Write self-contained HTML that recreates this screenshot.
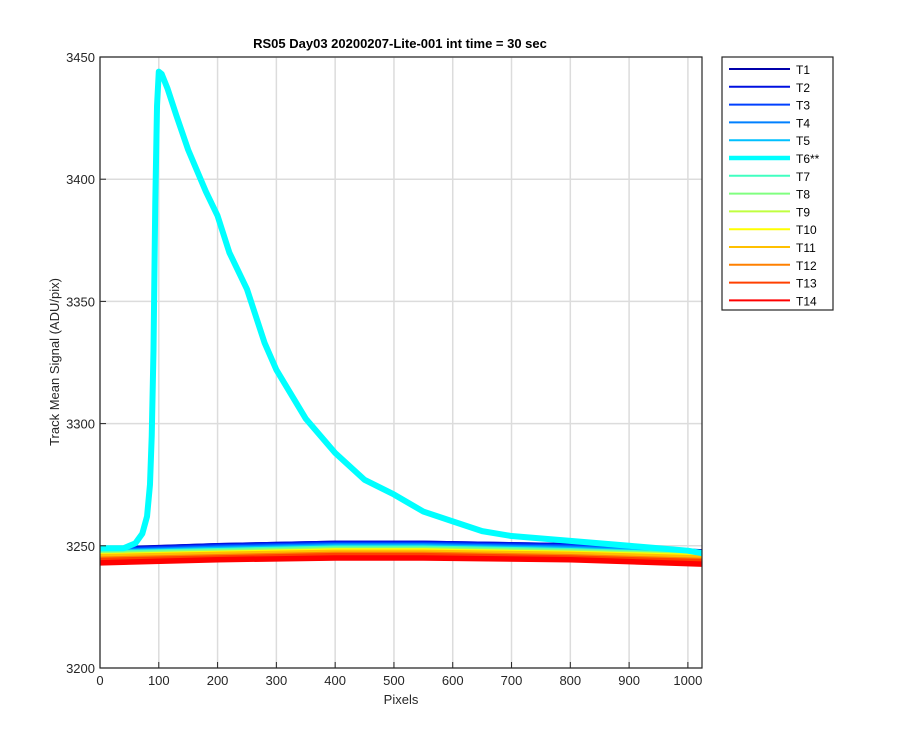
<!DOCTYPE html>
<html><head><meta charset="utf-8"><style>
body{margin:0;background:#fff;font-family:"Liberation Sans",sans-serif}
svg text{font-family:"Liberation Sans",sans-serif}
</style></head><body>
<svg id="chart" width="900" height="750">
<rect width="900" height="750" fill="#fff"/>
<rect x="100" y="57" width="602" height="611" fill="#fff" stroke="none"/>
<g id="grid"></g>
<g id="series"></g>
<rect x="100" y="57" width="602" height="611" fill="none" stroke="#262626" stroke-width="1.2"/>
<g id="ticks"></g>
<text x="400" y="48" text-anchor="middle" font-size="13" font-weight="bold" fill="#000">RS05 Day03 20200207-Lite-001 int time = 30 sec</text>
<text x="401" y="704" text-anchor="middle" font-size="13" fill="#262626">Pixels</text>
<text transform="translate(59,362) rotate(-90)" text-anchor="middle" font-size="13" fill="#262626">Track Mean Signal (ADU/pix)</text>
<g id="legend"></g>
</svg>
<script>
const NS="http://www.w3.org/2000/svg";
const xTicks=[0,100,200,300,400,500,600,700,800,900,1000];
const yTicks=[3200,3250,3300,3350,3400,3450];
const trackNames=["T1","T2","T3","T4","T5","T6**","T7","T8","T9","T10","T11","T12","T13","T14"];
const trackColors=["#0000aa","#0010e0","#0040ff","#0080ff","#00c0ff","#00ffff","#40ffc0","#80ff80","#c0ff40","#ffff00","#ffc000","#ff8000","#ff4000","#ff0000"];
const baseX=[0,200,400,550,800,1024];
const baseStart=[3248.5,3248.3,3248,3247.5,3247.2,3249,3247,3246.5,3246,3245.8,3245.5,3244.5,3244,3243];
const baseMid=[3250,3250,3249.5,3249,3248.5,0,3248,3247.5,3247,3246.8,3246.5,3245.5,3245,3244.3];
const baseHigh=[3251,3251,3250.5,3250,3249.5,0,3249,3248.5,3248,3247.8,3247.3,3246.5,3246,3245];
const baseEnd=[3247.5,3247.3,3247,3246.8,3246.5,0,3246.3,3246,3245.8,3245.5,3245,3244,3243.5,3242.5];
const t6X=[0,40,60,72,80,85,88,91,94,97,100,105,115,130,150,180,200,220,250,280,300,350,400,450,500,550,600,650,700,800,900,1000,1024];
const t6Y=[3249,3249,3251,3255,3262,3275,3295,3330,3390,3430,3444,3443,3437,3426,3412,3395,3385,3370,3355,3333,3322,3302,3288,3277,3271,3264,3260,3256,3254,3252,3250,3248,3247];
const X0=100,X1=702,Y0=668,Y1=57;
const sx=v=>X0+(v/1024)*(X1-X0);
const sy=v=>Y0-(v-3200)/250*(Y0-Y1);
const grid=document.getElementById('grid'),ticks=document.getElementById('ticks'),series=document.getElementById('series'),legend=document.getElementById('legend');
function mk(tag,a,p){const e=document.createElementNS(NS,tag);for(const k in a)e.setAttribute(k,a[k]);p.appendChild(e);return e;}
xTicks.forEach(t=>{
 const g=mk('line',{x1:sx(t),x2:sx(t),y1:Y1,y2:Y0,stroke:'#dcdcdc','stroke-width':1.5},grid);
 
 
 mk('line',{x1:sx(t),x2:sx(t),y1:Y0,y2:Y0-6,stroke:'#262626'},ticks);
 const l=mk('text',{x:sx(t),y:Y0+17,'text-anchor':'middle','font-size':13,fill:'#262626'},ticks);l.textContent=t;
 
 
});
yTicks.forEach(t=>{
 const g=mk('line',{x1:X0,x2:X1,y1:sy(t),y2:sy(t),stroke:'#dcdcdc','stroke-width':1.5},grid);
 
 
 mk('line',{x1:X0,x2:X0+6,y1:sy(t),y2:sy(t),stroke:'#262626'},ticks);
 const l=mk('text',{x:X0-5,y:sy(t)+5,'text-anchor':'end','font-size':13,fill:'#262626'},ticks);l.textContent=t;
 
 
});
for(let i=0;i<14;i++){
 if(i===5)continue;
 const ys=[baseStart[i],baseMid[i],baseHigh[i],baseHigh[i],baseMid[i],baseEnd[i]];
 const d=baseX.map((x,k)=>(k?'L':'M')+sx(x)+','+sy(ys[k])).join('');
 const p=mk('path',{d:d,fill:'none',stroke:trackColors[i],'stroke-width':5.5},series);
 
 
}
{
 const d=t6X.map((x,k)=>(k?'L':'M')+sx(x)+','+sy(t6Y[k])).join('');
 const p=mk('path',{d:d,fill:'none',stroke:'#00ffff','stroke-width':6,'stroke-linejoin':'round'},series);
 
 
}
mk('rect',{x:722,y:57,width:111,height:253,fill:'#fff',stroke:'#262626','stroke-width':1.2},legend);
trackNames.forEach((n,i)=>{
 const y=69+i*17.8;
 const l=mk('line',{x1:729,x2:790,y1:y,y2:y,stroke:trackColors[i],'stroke-width':i===5?4.5:2},legend);
 
 
 const t=mk('text',{x:796,y:y+5,'font-size':12,fill:'#000'},legend);t.textContent=n;
 
 
});
</script>
</body></html>
